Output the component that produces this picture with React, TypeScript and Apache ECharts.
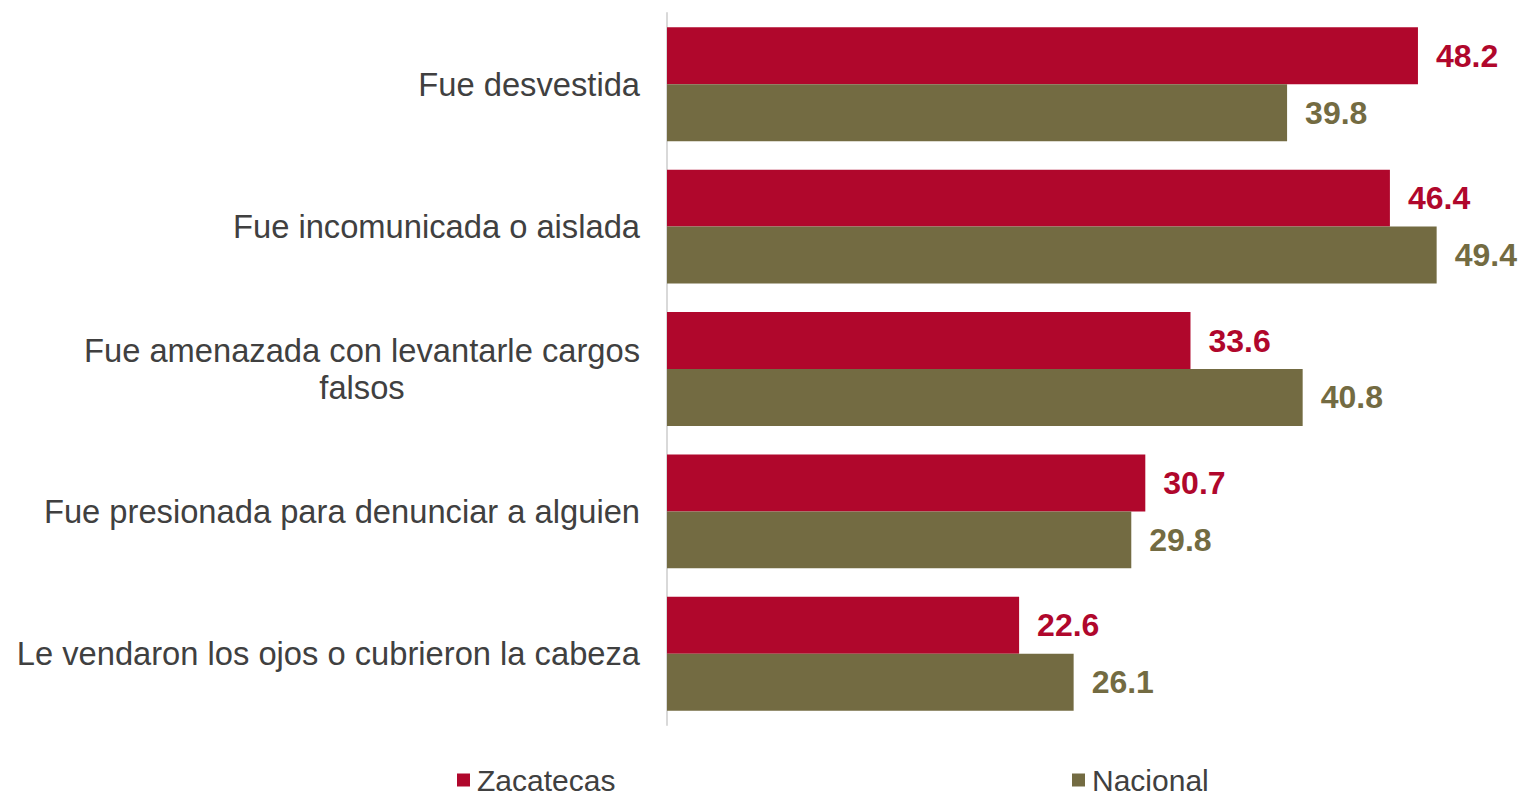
import React, { useEffect, useRef } from "react";
import * as echarts from "echarts";

const categories = [
  "Fue desvestida",
  "Fue incomunicada o aislada",
  "Fue amenazada con levantarle cargos falsos",
  "Fue presionada para denunciar a alguien",
  "Le vendaron los ojos o cubrieron la cabeza",
];
const zacatecas = [48.2, 46.4, 33.6, 30.7, 22.6];
const nacional = [39.8, 49.4, 40.8, 29.8, 26.1];
const seriesNames = ["Zacatecas", "Nacional"];

const RED = "#B0072C";
const OLIVE = "#736B42";
const FONT = "'Liberation Sans', Arial, sans-serif";

export default function App() {
  const ref = useRef<HTMLDivElement>(null);
  useEffect(() => {
    if (!ref.current) return;
    const chart = echarts.init(ref.current, null, { renderer: "svg" });
    const valueLabel = (color: string) => ({
      show: true,
      position: "right",
      distance: 18,
      color,
      fontSize: 32,
      fontWeight: "bold",
      fontFamily: FONT,
      formatter: (p: any) => p.value.toFixed(1),
    });
    chart.setOption({
      animation: false,
      backgroundColor: "#ffffff",
      textStyle: { fontFamily: FONT },
      grid: { left: 667, top: 13, width: 779, height: 712, containLabel: false },
      xAxis: {
        type: "value",
        min: 0,
        max: 50,
        show: false,
      },
      yAxis: {
        type: "category",
        data: categories,
        inverse: true,
        axisLine: { show: true, lineStyle: { color: "#d9d9d9", width: 2 } },
        axisTick: { show: false },
        splitLine: { show: false },
        axisLabel: {
          margin: 27,
          color: "#404040",
          fontSize: 32.7,
          fontFamily: FONT,
          align: "right",
          formatter: (v: string) => {
            if (v === "Fue amenazada con levantarle cargos falsos") {
              return "{c|Fue amenazada con levantarle cargos}\n{c|falsos}";
            }
            return "{c|" + v + "}";
          },
          rich: {
            c: {
              align: "center",
              color: "#404040",
              fontSize: 32.7,
              fontFamily: FONT,
              lineHeight: 37,
            },
          },
        },
      },
      legend: [
        {
          data: [seriesNames[0]],
          left: 452,
          top: 760,
          itemWidth: 13,
          itemHeight: 13,
          icon: "rect",
          textStyle: { color: "#404040", fontSize: 30, fontFamily: FONT, padding: [0, 0, 0, 2] },
        },
        {
          data: [seriesNames[1]],
          left: 1067,
          top: 760,
          itemWidth: 13,
          itemHeight: 13,
          icon: "rect",
          textStyle: { color: "#404040", fontSize: 30, fontFamily: FONT, padding: [0, 0, 0, 2] },
        },
      ],
      series: [
        {
          name: seriesNames[0],
          type: "bar",
          data: zacatecas,
          itemStyle: { color: RED },
          barGap: "0%",
          barCategoryGap: "20%",
          label: valueLabel(RED),
        },
        {
          name: seriesNames[1],
          type: "bar",
          data: nacional,
          itemStyle: { color: OLIVE },
          barGap: "0%",
          barCategoryGap: "20%",
          label: valueLabel(OLIVE),
        },
      ],
    });
    return () => chart.dispose();
  }, []);
  return (
    <div
      ref={ref}
      style={{ position: "fixed", left: 0, top: 0, width: 1524, height: 795, background: "#fff" }}
    />
  );
}
